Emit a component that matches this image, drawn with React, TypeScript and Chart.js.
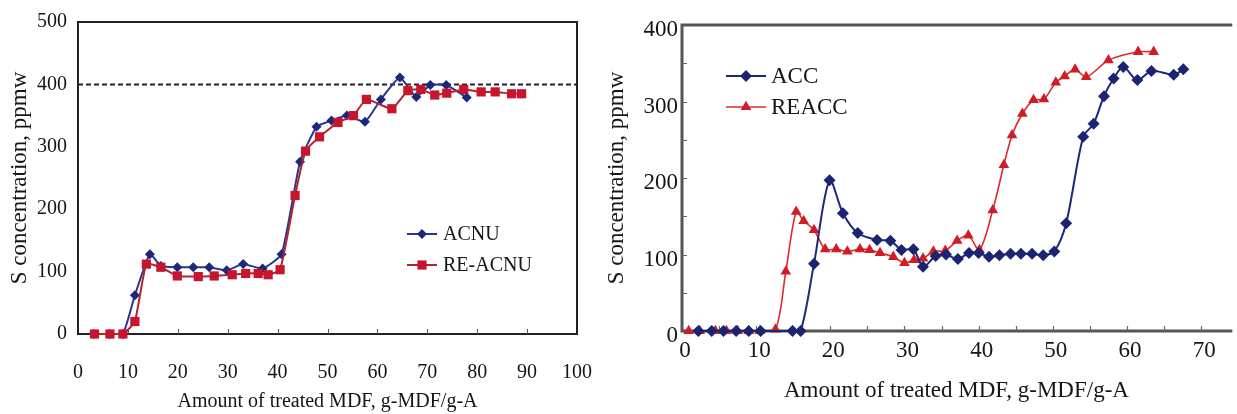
import React, { useEffect, useRef } from 'react';
import { Chart, registerables } from 'chart.js';

Chart.register(...registerables);

const FONT = "'Liberation Serif', 'Times New Roman', serif";
const TEXT = '#151515';

// ---------- Left panel data ----------
const acnuX = [3.2, 6.3, 9.0, 11.4, 14.4, 16.6, 19.9, 23.1, 26.3, 29.8, 33.1, 37.0, 40.8, 44.5, 47.8, 50.8, 53.9, 57.5, 60.7, 64.5, 67.8, 70.6, 73.8, 77.9];
const acnuY = [0, 0, 0, 62, 128, 109, 107, 107, 107, 102, 112, 105, 128, 276, 332, 342, 350, 340, 376, 411, 380, 399, 399, 379];
const reAcnuX = [3.3, 6.4, 9.0, 11.4, 13.7, 16.6, 19.9, 24.1, 27.3, 30.9, 33.6, 36.1, 38.1, 40.5, 43.5, 45.6, 48.4, 52.1, 55.2, 57.8, 62.9, 66.1, 68.7, 71.5, 73.9, 77.3, 80.8, 83.6, 86.9, 88.9];
const reAcnuY = [0, 0, 0, 20, 112, 107, 93, 92, 93, 95, 97, 97, 95, 103, 222, 293, 316, 339, 350, 376, 361, 390, 392, 383, 386, 392, 388, 388, 385, 385];
const refLineX = [0, 100];
const refLineY = [400, 400];
const leftXTicks = [0, 10, 20, 30, 40, 50, 60, 70, 80, 90, 100];
const leftYTicks = [0, 100, 200, 300, 400, 500];

// ---------- Right panel data ----------
const accX = [2.2, 4.0, 5.6, 7.3, 9.0, 10.6, 14.9, 16.0, 17.8, 19.9, 21.7, 23.7, 26.3, 28.1, 29.6, 31.2, 32.5, 34.2, 35.6, 37.2, 38.7, 40.0, 41.4, 42.8, 44.3, 45.7, 47.2, 48.7, 50.2, 51.8, 54.1, 55.5, 56.9, 58.2, 59.5, 61.4, 63.3, 66.3, 67.6];
const accY = [0, 0, 0, 0, 0, 0, 0, 0, 88, 197, 154, 128, 119, 118, 106, 107, 84, 98, 100, 94, 102, 102, 97, 99, 101, 101, 101, 99, 104, 141, 254, 271, 307, 330, 345, 328, 340, 335, 342];
const reaccX = [0.9, 2.4, 4.5, 6.0, 7.5, 9.0, 10.5, 12.6, 14.0, 15.4, 16.4, 17.8, 19.3, 20.8, 22.3, 24.0, 25.3, 26.7, 28.5, 30.0, 31.3, 32.5, 33.9, 35.5, 37.1, 38.6, 40.1, 41.9, 43.4, 44.5, 45.9, 47.4, 48.8, 50.4, 51.6, 53.0, 54.5, 57.5, 61.5, 63.6];
const reaccY = [0, 0, 0, 0, 0, 0, 0, 2, 78, 156, 144, 132, 107, 107, 104, 107, 106, 102, 97, 89, 93, 95, 104, 105, 118, 125, 106, 158, 217, 256, 284, 302, 303, 325, 333, 342, 332, 354, 365, 365];
const rightXTicks = [0, 5, 10, 15, 20, 25, 30, 35, 40, 45, 50, 55, 60, 65, 70];
const rightYTicks = [0, 50, 100, 150, 200, 250, 300, 350, 400];

const X_TITLE = 'Amount of treated MDF, g-MDF/g-A';
const Y_TITLE = 'S concentration, ppmw';

const toPoints = (xs: number[], ys: number[]) => xs.map((x, i) => ({ x, y: ys[i] }));

function drawMarker(ctx: CanvasRenderingContext2D, style: string, x: number, y: number, r: number, color: string) {
  ctx.fillStyle = color;
  ctx.beginPath();
  if (style === 'rect') {
    const s = r * Math.SQRT1_2;
    ctx.rect(x - s, y - s, 2 * s, 2 * s);
  } else if (style === 'rectRot') {
    ctx.moveTo(x, y - r);
    ctx.lineTo(x + r, y);
    ctx.lineTo(x, y + r);
    ctx.lineTo(x - r, y);
    ctx.closePath();
  } else {
    let a = 0;
    ctx.moveTo(x + Math.sin(a) * r, y - Math.cos(a) * r);
    a += (2 * Math.PI) / 3;
    ctx.lineTo(x + Math.sin(a) * r, y - Math.cos(a) * r);
    a += (2 * Math.PI) / 3;
    ctx.lineTo(x + Math.sin(a) * r, y - Math.cos(a) * r);
    ctx.closePath();
  }
  ctx.fill();
}

function makeFramePlugin(cfg: any) {
  return {
    id: 'frame',
    beforeDatasetsDraw(chart: any) {
      const { ctx, chartArea: a } = chart;
      ctx.save();
      ctx.strokeStyle = cfg.color;
      ctx.lineWidth = cfg.width;
      ctx.lineCap = 'square';
      ctx.beginPath();
      if (cfg.top) { ctx.moveTo(a.left, a.top); ctx.lineTo(a.right, a.top); }
      if (cfg.right) { ctx.moveTo(a.right, a.top); ctx.lineTo(a.right, a.bottom); }
      if (cfg.bottom) { ctx.moveTo(a.left, a.bottom); ctx.lineTo(a.right, a.bottom); }
      if (cfg.left) { ctx.moveTo(a.left, a.top); ctx.lineTo(a.left, a.bottom); }
      ctx.stroke();
      ctx.lineCap = 'butt';
      ctx.strokeStyle = cfg.tickColor;
      ctx.lineWidth = cfg.tickWidth;
      ctx.beginPath();
      const xs = chart.scales.x;
      const ys = chart.scales.y;
      (cfg.xTicks || []).forEach((v: number) => {
        const px = Math.round(xs.getPixelForValue(v)) + 0.5;
        ctx.moveTo(px, a.bottom);
        ctx.lineTo(px, a.bottom - cfg.tickLen);
      });
      (cfg.yTicks || []).forEach((v: number) => {
        const py = Math.round(ys.getPixelForValue(v)) + 0.5;
        ctx.moveTo(a.left, py);
        ctx.lineTo(a.left + cfg.tickLen, py);
      });
      ctx.stroke();
      ctx.restore();
    },
  };
}

function makeLegendPlugin(cfg: any) {
  return {
    id: 'inlineLegend',
    afterDatasetsDraw(chart: any) {
      const ctx = chart.ctx;
      cfg.items.forEach((it: any) => {
        const ds = chart.data.datasets[it.dataset];
        ctx.save();
        ctx.strokeStyle = ds.borderColor;
        ctx.lineWidth = ds.borderWidth;
        ctx.beginPath();
        ctx.moveTo(it.x1, it.y);
        ctx.lineTo(it.x2, it.y);
        ctx.stroke();
        drawMarker(ctx, ds.pointStyle, (it.x1 + it.x2) / 2, it.y, ds.pointRadius, ds.pointBackgroundColor);
        ctx.fillStyle = TEXT;
        ctx.font = `${cfg.fontSize}px ${FONT}`;
        ctx.textBaseline = 'middle';
        ctx.textAlign = 'left';
        ctx.fillText(ds.label, it.textX, it.y + 1);
        ctx.restore();
      });
    },
  };
}

// invisible tick marks used only to push labels away from the axis
const spacerGrid = (len: number) => ({
  display: true,
  drawOnChartArea: false,
  drawTicks: true,
  tickLength: len,
  color: 'rgba(0,0,0,0)',
});

function leftConfig(): any {
  const tickFont = { family: FONT, size: 20 };
  return {
    type: 'line',
    data: {
      datasets: [
        {
          label: 'RE-ACNU',
          data: toPoints(reAcnuX, reAcnuY),
          borderColor: '#b02530',
          borderWidth: 2,
          pointStyle: 'rect',
          pointRadius: 6.5,
          pointBackgroundColor: '#c8142c',
          pointBorderWidth: 0,
          tension: 0.15,
          clip: false,
          order: 0,
        },
        {
          label: 'ACNU',
          data: toPoints(acnuX, acnuY),
          borderColor: '#2a3590',
          borderWidth: 2,
          pointStyle: 'rectRot',
          pointRadius: 5,
          pointBackgroundColor: '#1c2878',
          pointBorderWidth: 0,
          tension: 0.15,
          clip: false,
          order: 1,
        },
        {
          label: 'ref',
          data: toPoints(refLineX, refLineY),
          borderColor: '#222',
          borderWidth: 2,
          borderDash: [5, 3],
          pointRadius: 0,
          order: 2,
        },
      ],
    },
    options: {
      responsive: false,
      animation: false,
      devicePixelRatio: 1,
      layout: { padding: { left: 0, top: 22, right: 23, bottom: 0 } },
      plugins: { legend: { display: false }, tooltip: { enabled: false } },
      scales: {
        x: {
          type: 'linear',
          min: 0,
          max: 100,
          afterBuildTicks: (s: any) => { s.ticks = leftXTicks.map((v) => ({ value: v })); },
          afterFit: (s: any) => { s.height = 80; },
          grid: spacerGrid(27),
          border: { display: false },
          ticks: { font: tickFont, color: TEXT, padding: 0, autoSkip: false, maxRotation: 0 },
          title: { display: true, text: X_TITLE, font: { family: FONT, size: 20 }, color: TEXT, padding: { top: 0, bottom: 0 } },
        },
        y: {
          type: 'linear',
          min: 0,
          max: 500,
          afterBuildTicks: (s: any) => { s.ticks = leftYTicks.map((v) => ({ value: v })); },
          afterFit: (s: any) => { s.width = 78; },
          grid: spacerGrid(11),
          border: { display: false },
          ticks: { font: tickFont, color: TEXT, padding: 0, autoSkip: false },
          title: { display: true, text: Y_TITLE, font: { family: FONT, size: 23 }, color: TEXT, padding: { top: 6, bottom: 0 } },
        },
      },
    },
    plugins: [
      makeFramePlugin({ color: '#222', width: 2, top: true, right: true, bottom: true, left: true, tickColor: '#555', tickWidth: 1, tickLen: 5, xTicks: leftXTicks.slice(1, -1), yTicks: [] }),
      makeLegendPlugin({
        fontSize: 20,
        items: [
          { dataset: 1, x1: 407, x2: 437, y: 234, textX: 443 },
          { dataset: 0, x1: 407, x2: 437, y: 265, textX: 443 },
        ],
      }),
    ],
  };
}

function rightConfig(): any {
  const tickFont = { family: FONT, size: 23 };
  return {
    type: 'line',
    data: {
      datasets: [
        {
          label: 'ACC',
          data: toPoints(accX, accY),
          borderColor: '#1d2878',
          borderWidth: 2,
          pointStyle: 'rectRot',
          pointRadius: 6,
          pointBackgroundColor: '#1a2470',
          pointBorderWidth: 0,
          tension: 0.3,
          clip: false,
          order: 0,
        },
        {
          label: 'REACC',
          data: toPoints(reaccX, reaccY),
          borderColor: '#e0282e',
          borderWidth: 1.6,
          pointStyle: 'triangle',
          pointRadius: 6.2,
          pointBackgroundColor: '#d01c24',
          pointBorderWidth: 0,
          tension: 0.3,
          clip: false,
          order: 1,
        },
      ],
    },
    options: {
      responsive: false,
      animation: false,
      devicePixelRatio: 1,
      layout: { padding: { left: 0, top: 25, right: 0, bottom: 0 } },
      plugins: { legend: { display: false }, tooltip: { enabled: false } },
      scales: {
        x: {
          type: 'linear',
          min: 0,
          max: 74,
          afterBuildTicks: (s: any) => { s.ticks = rightXTicks.map((v) => ({ value: v })); },
          afterFit: (s: any) => { s.height = 83; },
          grid: spacerGrid(6),
          border: { display: false },
          ticks: {
            font: tickFont,
            color: TEXT,
            padding: 0,
            labelOffset: 3,
            autoSkip: false,
            maxRotation: 0,
            callback: (v: any) => (Number(v) % 10 === 0 ? String(v) : ''),
          },
          title: { display: true, text: X_TITLE, font: { family: FONT, size: 23 }, color: TEXT, padding: { top: 0, bottom: 9 } },
        },
        y: {
          type: 'linear',
          min: 0,
          max: 400,
          afterBuildTicks: (s: any) => { s.ticks = rightYTicks.map((v) => ({ value: v })); },
          afterFit: (s: any) => { s.width = 82; },
          grid: spacerGrid(4),
          border: { display: false },
          ticks: {
            font: tickFont,
            color: TEXT,
            padding: 0,
            labelOffset: 5,
            autoSkip: false,
            callback: (v: any) => (Number(v) % 100 === 0 ? String(v) : ''),
          },
          title: { display: true, text: Y_TITLE, font: { family: FONT, size: 23 }, color: TEXT, padding: { top: 3, bottom: 0 } },
        },
      },
    },
    plugins: [
      makeFramePlugin({ color: '#555', width: 3, top: true, right: false, bottom: true, left: true, tickColor: '#666', tickWidth: 1.2, tickLen: 5, xTicks: rightXTicks.slice(1), yTicks: rightYTicks.slice(1, -1) }),
      makeLegendPlugin({
        fontSize: 23,
        items: [
          { dataset: 0, x1: 126, x2: 166, y: 76, textX: 171 },
          { dataset: 1, x1: 126, x2: 166, y: 107, textX: 171 },
        ],
      }),
    ],
  };
}

function Panel({ makeConfig, left, width }: { makeConfig: () => any; left: number; width: number }) {
  const ref = useRef<HTMLCanvasElement>(null);
  useEffect(() => {
    const chart = new Chart(ref.current as HTMLCanvasElement, makeConfig());
    return () => chart.destroy();
  }, [makeConfig]);
  return (
    <canvas
      ref={ref}
      width={width}
      height={414}
      style={{ position: 'absolute', left, top: 0, width, height: 414, display: 'block' }}
    />
  );
}

export default function App() {
  return (
    <div style={{ position: 'fixed', left: 0, top: 0, width: 1237, height: 414, background: '#fff', overflow: 'hidden' }}>
      <Panel makeConfig={leftConfig} left={0} width={600} />
      <Panel makeConfig={rightConfig} left={600} width={637} />
    </div>
  );
}
